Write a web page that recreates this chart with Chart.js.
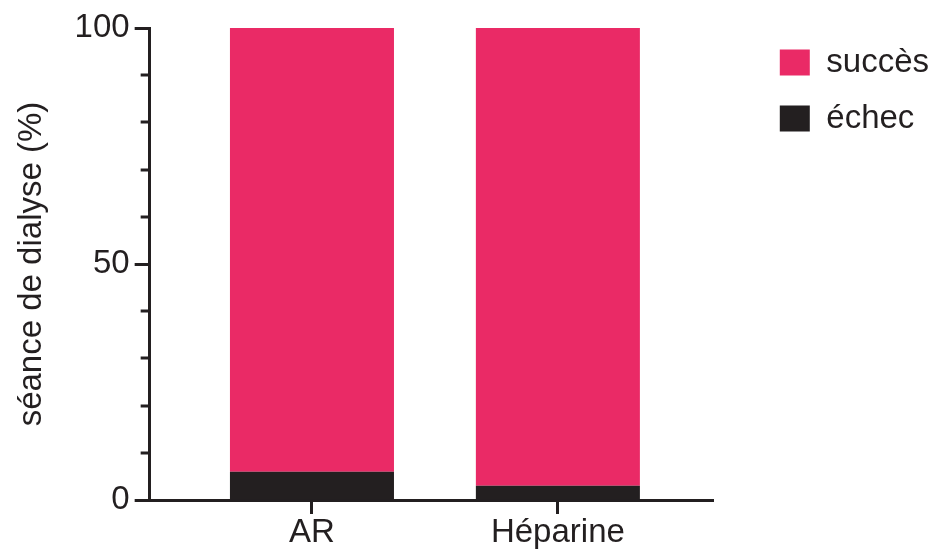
<!DOCTYPE html>
<html>
<head>
<meta charset="utf-8">
<script src="https://cdn.jsdelivr.net/npm/chart.js@4"></script>
<style>
  html, body { margin: 0; padding: 0; background: #fff; }
  #wrap { width: 949px; height: 551px; }
</style>
</head>
<body>
<div id="wrap"><canvas id="chart"></canvas></div>
<script>
// data
const categories = ["AR", "Héparine"];
const succes = [94, 97];
const echec = [6, 3];
const majorTicks = [0, 50, 100];
const minorTicks = [10, 20, 30, 40, 60, 70, 80, 90];

const pink = "#EA2A66";
const dark = "#231F20";
const font = "'Liberation Sans', Arial, sans-serif";

// small ticks on the y axis (shorter than the labelled ones)
const minorTickPlugin = {
  id: "minorTicks",
  afterDraw(chart) {
    const y = chart.scales.y;
    const ctx = chart.ctx;
    ctx.save();
    ctx.strokeStyle = dark;
    ctx.lineWidth = 3;
    minorTicks.forEach((v) => {
      const py = Math.round(y.getPixelForValue(v));
      ctx.beginPath();
      ctx.moveTo(y.right - 9, py);
      ctx.lineTo(y.right, py);
      ctx.stroke();
    });
    ctx.restore();
  },
};

const toPoints = (arr) => arr.map((v, i) => ({ x: i, y: v }));

new Chart(document.getElementById("chart"), {
  type: "bar",
  data: {
    datasets: [
      {
        label: "échec",
        data: toPoints(echec),
        backgroundColor: dark,
        barPercentage: 0.667,
        categoryPercentage: 1,
      },
      {
        label: "succès",
        data: toPoints(succes),
        backgroundColor: pink,
        barPercentage: 0.667,
        categoryPercentage: 1,
      },
    ],
  },
  options: {
    responsive: true,
    maintainAspectRatio: false,
    animation: false,
    layout: { padding: { top: 23, right: 10, left: 12, bottom: 0 } },
    plugins: {
      tooltip: { enabled: false },
      legend: {
        position: "right",
        align: "start",
        reverse: true,
        maxWidth: 240,
        labels: {
          boxWidth: 30,
          boxHeight: 26,
          padding: 23,
          color: dark,
          font: { family: font, size: 33 },
        },
      },
    },
    scales: {
      x: {
        type: "linear",
        stacked: true,
        min: -0.66,
        max: 1.634,
        offset: false,
        afterBuildTicks: (scale) => {
          scale.ticks = categories.map((c, i) => ({ value: i }));
        },
        border: { display: true, width: 3, color: dark },
        grid: {
          offset: false,
          drawOnChartArea: false,
          drawTicks: true,
          tickLength: 14,
          tickWidth: 3,
          tickColor: dark,
        },
        ticks: {
          color: dark,
          padding: 2,
          maxRotation: 0,
          font: { family: font, size: 33, lineHeight: 1 },
          callback: (v) => categories[v],
        },
      },
      y: {
        stacked: true,
        min: 0,
        max: 100,
        afterBuildTicks: (scale) => {
          scale.ticks = majorTicks.map((v) => ({ value: v }));
        },
        afterFit: (scale) => {
          scale.paddingTop = 28;
        },
        border: { display: true, width: 3, color: dark },
        grid: {
          drawOnChartArea: false,
          drawTicks: true,
          tickLength: 15,
          tickWidth: 3,
          tickColor: dark,
        },
        ticks: {
          color: dark,
          padding: 5,
          font: { family: font, size: 33, lineHeight: 1 },
        },
        title: {
          display: true,
          text: "séance de dialyse (%)",
          color: dark,
          padding: { top: 0, bottom: 18 },
          font: { family: font, size: 33 },
        },
      },
      // empty space between the plot and the legend
      gap: {
        type: "linear",
        position: "right",
        display: true,
        grid: { display: false },
        border: { display: false },
        ticks: { display: false },
        afterFit: (scale) => {
          scale.width = 43;
        },
      },
    },
  },
  plugins: [minorTickPlugin],
});
</script>
</body>
</html>
